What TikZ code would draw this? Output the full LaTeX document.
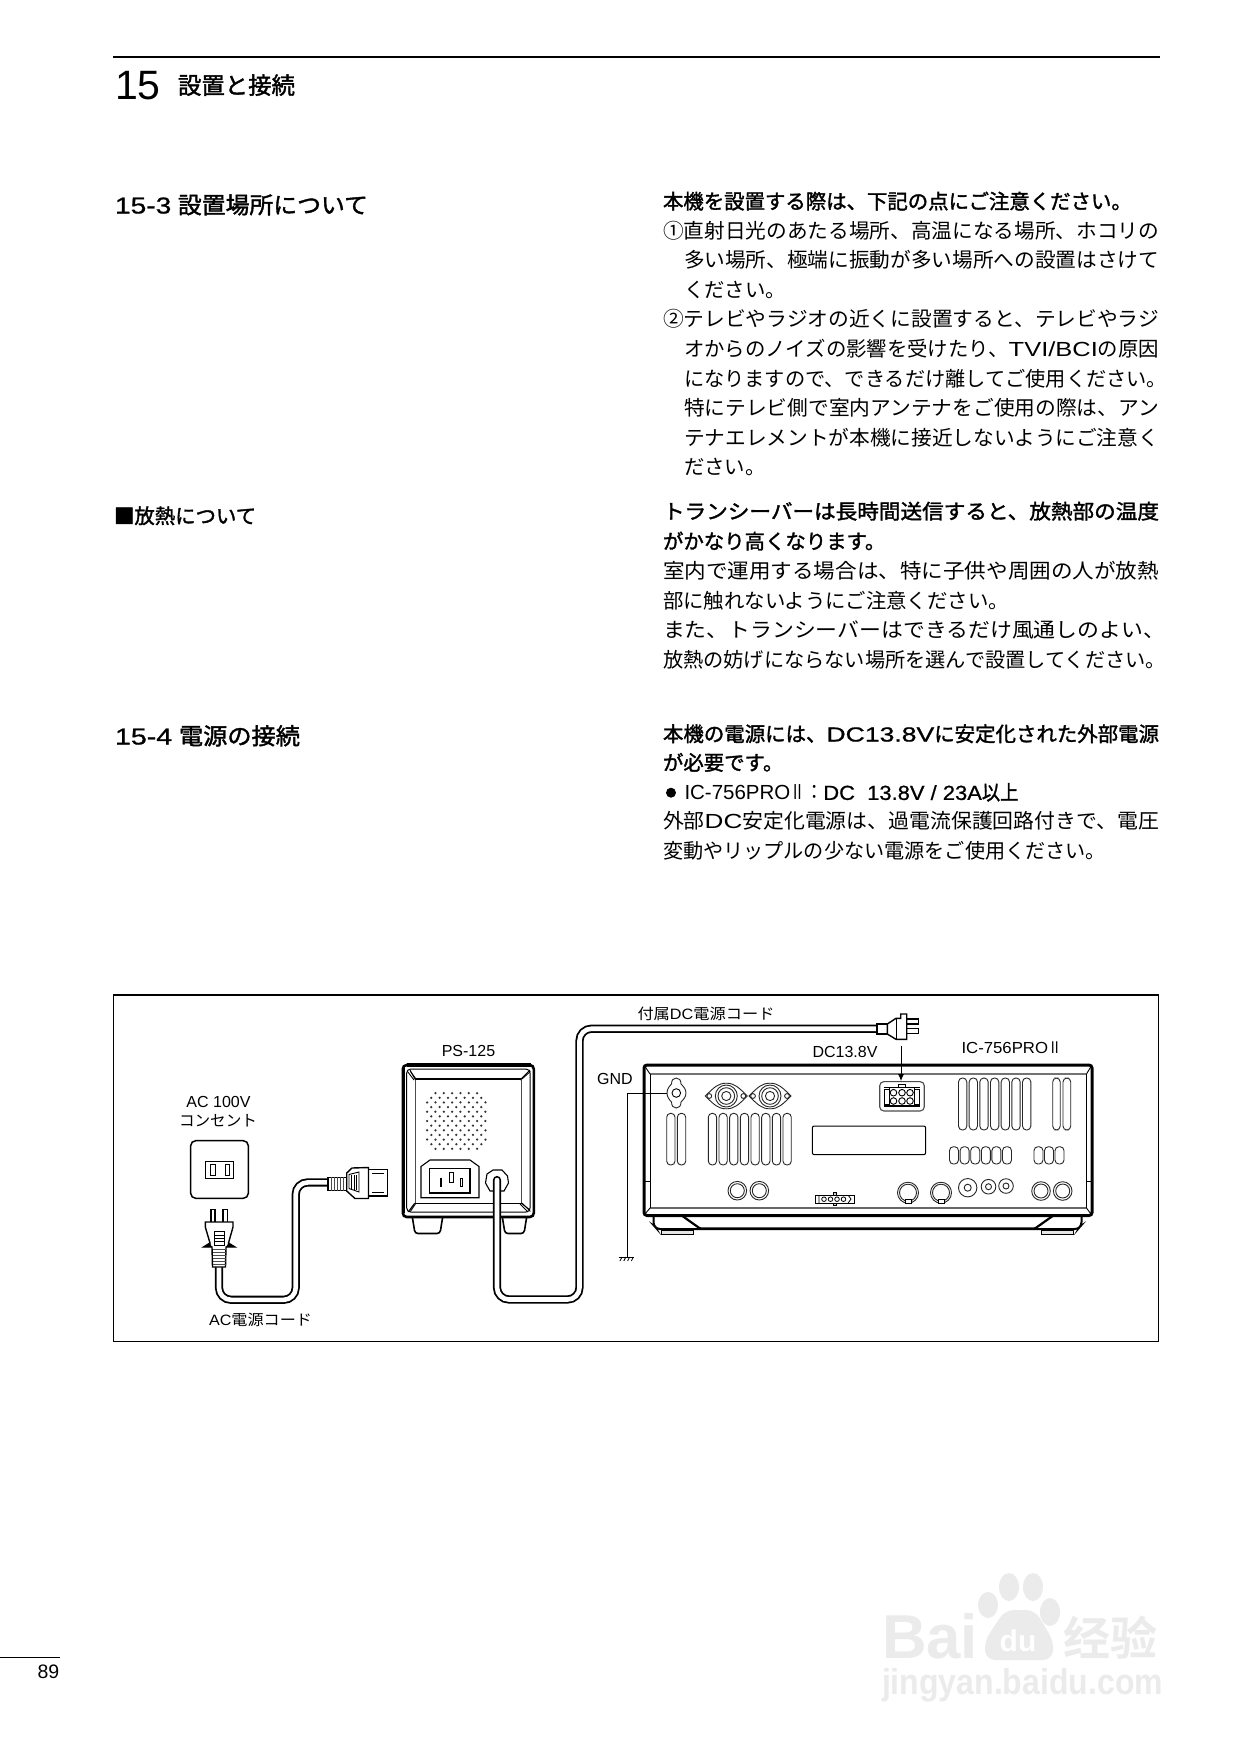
\documentclass[tikz,border=0pt]{standalone}
\usepackage{fontspec}
\usepackage{graphicx}
\setmainfont{Liberation Sans}[BoldFont=Liberation Sans,BoldFeatures={FakeBold=0.8}]
\newfontfamily\jp{Noto Sans CJK JP}[BoldFont=Noto Sans CJK JP,BoldFeatures={FakeBold=1.6}]
\newfontfamily\scfont{Noto Sans CJK SC Bold}
\newfontfamily\wmfont{Liberation Sans Bold}
\usetikzlibrary{arrows.meta}
\newcommand\fs{\fontsize{20.4}{24}\selectfont\jp}
\newcommand\lf{\rmfamily}
\newcommand\wide[2]{\scalebox{#1}[1]{#2}}
% fitted line: name,x,y(center),width,text
\newcommand\tfit[5]{\node[txt] (#1) at (#2,#3+7.2) {\resizebox{#4pt}{\height}{\fs #5}};}
\newcommand\tnat[4]{\node[txt] (#1) at (#2,#3+7.2) {\fs #4};}
\newcommand\slot[4]{\draw[thinl,rounded corners=3.9pt] (#1,#2) rectangle (#3,#4);}
\tikzset{
 txt/.style={anchor=base west,inner sep=0pt,outer sep=0pt},
 lab/.style={inner sep=0pt,outer sep=0pt,font=\fontsize{16}{18}\selectfont},
 thinl/.style={line width=0.9pt,draw=black!85},
 med/.style={line width=1.3pt},
 hvy/.style={line width=3pt},
 cord/.style={draw=black,line width=1.8pt,double=white,double distance=4.6pt},
 wm/.style={inner sep=0pt,outer sep=0pt,text=black!8},
}
\begin{document}
\begin{tikzpicture}[x=1pt,y=-1pt]
\useasboundingbox (0,0) rectangle (1240,1754);
\fill[white] (0,0) rectangle (1240,1754);
% page header
\draw[line width=2.4pt] (113,57) -- (1160,57);
\node[txt] (chap) at (115,99) {\fontsize{41}{44}\selectfont 15};
\node[txt] (chapt) at (178,94) {\fontsize{23.4}{26}\selectfont\jp\bfseries 設置と接続};
\node[txt] (s153) at (115,213.5) {\resizebox{253pt}{\height}{\fontsize{23}{26}\selectfont\bfseries \wide{1.18}{15-3} {\jp 設置場所について}}};
\node[txt] (sheat) at (114,523.5) {\fontsize{20.4}{24}\selectfont\jp\bfseries ■放熱について};
\node[txt] (s154) at (115,744.5) {\resizebox{185pt}{\height}{\fontsize{23}{26}\selectfont\bfseries \wide{1.18}{15-4} {\jp 電源の接続}}};
% body column
\tnat{a1}{663}{201.7}{\bfseries 本機を設置する際は、下記の点にご注意ください。}
\tfit{a2}{663}{231.2}{496}{①直射日光のあたる場所、高温になる場所、ホコリの}
\tfit{a3}{684}{260.5}{475}{多い場所、極端に振動が多い場所への設置はさけて}
\tnat{a4}{684}{290}{ください。}
\tfit{a5}{663}{319.5}{496}{②テレビやラジオの近くに設置すると、テレビやラジ}
\tfit{a6}{684}{349.5}{475}{オからのノイズの影響を受けたり、{\lf\wide{1.25}{TVI/BCI}}の原因}
\tfit{a7}{684}{379}{483}{になりますので、できるだけ離してご使用ください。}
\tfit{a8}{684}{408.5}{475}{特にテレビ側で室内アンテナをご使用の際は、アン}
\tfit{a9}{684}{438}{475}{テナエレメントが本機に接近しないようにご注意く}
\tnat{a10}{684}{467.5}{ださい。}
\tfit{b1}{663}{511.7}{496}{\bfseries トランシーバーは長時間送信すると、放熱部の温度}
\tnat{b2}{663}{541.7}{\bfseries がかなり高くなります。}
\tfit{b3}{663}{571.7}{496}{室内で運用する場合は、特に子供や周囲の人が放熱}
\tnat{b4}{663}{601}{部に触れないようにご注意ください。}
\tfit{b5}{663}{630.7}{502}{また、トランシーバーはできるだけ風通しのよい、}
\tfit{b6}{663}{660}{503}{放熱の妨げにならない場所を選んで設置してください。}
\tfit{c1}{663}{734.3}{496}{\bfseries 本機の電源には、{\lf\wide{1.3}{DC13.8V}}に安定化された外部電源}
\tnat{c2}{663}{763}{\bfseries が必要です。}
\node[circle,fill=black,inner sep=0pt,minimum size=10pt] (c3b) at (671,792.7) {};
\node[txt] (c3) at (684.5,799.9) {\resizebox{334pt}{\height}{\fs {\lf\wide{1.12}{IC-756PRO}}\wide{0.8}{Ⅱ}：{\lf\bfseries\wide{1.2}{DC\ \ 13.8V / 23A}}{\bfseries 以上}}};
\tfit{c4}{663}{821.7}{496}{外部{\lf\wide{1.25}{DC}}安定化電源は、過電流保護回路付きで、電圧}
\tfit{c5}{663}{851.7}{443}{変動やリップルの少ない電源をご使用ください。}
% figure frame
\draw[line width=1.2pt] (113.5,995) rectangle (1158.5,1341.5);
% labels
\node[lab] (lac) at (218.5,1102) {AC 100V};
\node[lab] (lcon) at (218,1121) {\fontsize{15.6}{18}\selectfont\jp コンセント};
\node[lab] (lps) at (468.5,1051) {PS-125};
\node[lab] (lcord) at (260.5,1320) {\resizebox{103pt}{\height}{\fontsize{15}{18}\selectfont AC{\jp 電源コード}}};
\node[lab] (lgnd) at (615,1079) {GND};
\node[lab] (ldcc) at (706,1014) {\resizebox{137pt}{\height}{\fontsize{15}{18}\selectfont\jp 付属{\rmfamily DC}電源コード}};
\node[lab] (ldc) at (845,1052) {DC13.8V};
\node[lab] (lic) at (1011.5,1048) {\resizebox{100pt}{\height}{\fontsize{16}{18}\selectfont IC-756PRO{\jp\wide{0.8}{Ⅱ}}}};
% outlet
\node[draw,line width=1.5pt,rounded corners=5pt,minimum width=57.6pt,minimum height=57.6pt,inner sep=0pt] (outlet) at (219.5,1169.5) {};
\node[draw,line width=1pt,minimum width=27.6pt,minimum height=17.3pt,inner sep=0pt] (socket) at (219.5,1169.7) {};
\draw[line width=1pt] (210.7,1164) rectangle (215,1175.3) (225,1164) rectangle (229.3,1175.3);
% PS-125
\foreach \fx/\fa/\fb in {0/412/443,1/502/527}{
 \draw[med,line width=1.6pt,fill=white,rounded corners=3pt] (\fa,1215) -- (\fa+3,1233.5) -- (\fb-3,1233.5) -- (\fb,1215);
}
\draw[line width=2.6pt,fill=white,rounded corners=4pt] (402.8,1065) rectangle (533.8,1217);
\draw[line width=3.6pt] (403.4,1213) -- (403.4,1068) (406.5,1065.2) -- (531,1065.2);
\draw[line width=1pt,rounded corners=4pt] (406.7,1069) rectangle (530,1212);
\draw[line width=1pt,black!70] (415,1079) -- (415,1203);
\draw[line width=1pt,black!70] (521,1079) -- (521,1203);
\draw[line width=1.3pt] (415,1079) -- (521,1079);
\draw[line width=1pt] (415,1203) -- (521,1203);
\foreach \px/\py/\ox/\oy in {415/1079/408/1071,521/1079/528/1071,415/1203/408/1211,521/1203/528/1211}{
 \draw[line width=0.9pt] (\px,\py) -- (\ox+2,\oy-1) (\px-1,\py+1) -- (\ox,\oy+1);
 \draw[line width=0.9pt] (\px+1,\py) -- (\ox+2.4,\oy+0.4);
}
% speaker dots
\foreach \i in {-6,...,6}{\foreach \j in {-4,...,4}{
 \pgfmathsetmacro\dx{(\j+(mod(abs(\i),2)==0?0.5:0))*8.33}
 \pgfmathsetmacro\dy{\i*4.64}
 \pgfmathtruncatemacro\ok{(abs(\dx)<=30 && abs(\dx)+abs(\dy)<=49.5)?1:0}
 \ifnum\ok=1 \fill[black!80] (456.3+\dx,1121+\dy) circle[radius=1.25]; \fi
}}
% IEC inlet
\draw[line width=1.1pt] (421,1166.5) -- (430,1160) -- (470,1160) -- (479,1166.5) -- (479,1197.7) -- (421,1197.7) -- cycle;
\draw[line width=1.6pt] (429.3,1168.3) rectangle (470,1192.7);
\draw[line width=1pt] (440,1178) rectangle (441.8,1186.5) (449.7,1172.5) rectangle (453.2,1182) (460.2,1178) rectangle (462.2,1186.5);
% grommet
\draw[line width=1.1pt,fill=white] (507.5,1176) -- (508.5,1183) -- (504,1191) -- (490,1191) -- (485.5,1183) -- (487,1174) -- (493,1170) -- (502,1170) -- cycle;
% radio
\draw[line width=2pt,fill=white,rounded corners=3pt] (653.5,1213) -- (653.5,1225) -- (657,1229) -- (1078,1229) -- (1081.5,1225) -- (1081.5,1213);
\draw[hvy,fill=white,rounded corners=3pt] (644,1065) rectangle (1092,1215.5);
\draw[line width=2pt,black!55] (650,1074) -- (1086,1074);
\draw[line width=1.5pt,black!60] (650,1208) -- (1086,1208);
\draw[line width=0.9pt] (650,1074) -- (650,1208) (1086.5,1074) -- (1086.5,1208);
\draw[line width=0.9pt] (645,1066.5) -- (650,1074) (1091,1066.5) -- (1086.5,1074) (645,1214) -- (650,1208) (1091,1214) -- (1086.5,1208);
\draw[line width=0.9pt] (645,1181.7) -- (650,1181.7) (1087,1181.7) -- (1091,1181.7);
% base
\draw[line width=2.2pt,rounded corners=1pt] (681,1215) -- (700,1228.5) -- (1035,1228.5) -- (1054,1215);
\draw[line width=1.5pt,fill=black!10] (661.7,1230) rectangle (693.3,1234.5) (1041.7,1230) rectangle (1073.3,1234.5);
% GND stud
\draw[thinl,fill=white] (671.5,1084) .. controls (671.5,1080) and (673.5,1078) .. (676.3,1078) .. controls (679,1078) and (681,1080) .. (681,1084) .. controls (683,1086) and (686,1089) .. (686,1093) .. controls (686,1097) and (683,1100) .. (681,1102) .. controls (681,1106) and (679,1108) .. (676.3,1108) .. controls (673.5,1108) and (671.5,1106) .. (671.5,1102) .. controls (669.5,1100) and (667,1097) .. (667,1093) .. controls (667,1089) and (669.5,1086) .. (671.5,1084) -- cycle;
\node[draw,line width=0.9pt,circle,inner sep=0pt,minimum size=8.6pt] (stud) at (676.3,1093) {};
\coordinate (gndtee) at (627,1093);
\coordinate (gnd) at (627,1257);
\draw[line width=1pt] (667,1093) -- (gndtee) -- (gnd);
\draw[line width=1pt] (618.5,1257) -- (634,1257);
\foreach \k in {0,1,2,3}{\draw[line width=0.8pt] (620+\k*3.8,1261) -- (622+\k*3.8,1257);}
% antenna connectors
\foreach \cx in {726.3,770}{
 \draw[thinl,fill=white] (\cx-21,1096) .. controls (\cx-12,1087) and (\cx-8,1083.2) .. (\cx,1083.2) .. controls (\cx+8,1083.2) and (\cx+12,1087) .. (\cx+21,1096) .. controls (\cx+12,1105) and (\cx+8,1108.8) .. (\cx,1108.8) .. controls (\cx-8,1108.8) and (\cx-12,1105) .. (\cx-21,1096) -- cycle;
 \draw[thinl] (\cx,1096) circle[radius=11] (\cx,1096) circle[radius=8.3] (\cx,1096) circle[radius=4.6];
 \draw[thinl] (\cx-17,1096) circle[radius=2.4] (\cx+17,1096) circle[radius=2.4];
}
% vents
\slot{666.7}{1113.3}{675}{1165}
\slot{677.3}{1113.3}{685.7}{1165}
\foreach \k in {0,...,7}{\slot{708.3+\k*10.67}{1113.3}{716.6+\k*10.67}{1165}}
\foreach \k in {0,...,6}{\slot{958.5+\k*10.67}{1078}{966.8+\k*10.67}{1130}}
\slot{1052.7}{1078}{1060.2}{1130}
\slot{1063}{1078}{1070.7}{1130}
\foreach \k in {0,...,5}{\slot{949.5+\k*10.6}{1146.7}{958.5+\k*10.6}{1164}}
\foreach \k in {0,1,2}{\slot{1034+\k*10.5}{1146.7}{1043+\k*10.5}{1164}}
% label plate
\draw[line width=1pt,rounded corners=2pt] (812.3,1126) rectangle (925.7,1154.7);
% DC socket
\node[draw=black!70,line width=1.1pt,rounded corners=4pt,minimum width=44.5pt,minimum height=29.3pt,inner sep=0pt] (dcsock) at (902,1096.3) {};
\draw[line width=1.3pt] (884,1087.3) -- (919.5,1087.3) (884,1106) -- (919.5,1106);
\draw[line width=1pt] (889.3,1087.3) -- (889.3,1106) (914.3,1087.3) -- (914.3,1106) (884,1089.5) rectangle (889.3,1104) (914.3,1089.5) rectangle (919.5,1104);
\foreach \k in {893.5,902,910}{\draw[line width=0.9pt] (\k,1092.7) circle[radius=3.3] (\k,1101) circle[radius=3.3];}
\draw[fill=white,line width=0.8pt] (898.5,1084.5) rectangle (905,1087.3);
% rear sockets
\foreach \cx/\cy/\ra/\rb in {737.3/1190.7/9.3/7,759.3/1190.7/9.3/7,1041/1191/9.3/7,1062.7/1191/9.3/7,967.7/1187.7/9.2/3.5,988.5/1186.7/7.3/3,1006/1186/7.3/3}{
 \draw[thinl] (\cx,\cy) circle[radius=\ra] (\cx,\cy) circle[radius=\rb];
}
\foreach \cx in {908,941}{
 \draw[thinl] (\cx,1192.7) circle[radius=10.5] (\cx,1192.7) circle[radius=8.5];
 \draw[line width=0.8pt,fill=white] (\cx-3,1199) rectangle (\cx+3,1203);
}
\draw[line width=1pt] (815.7,1195) rectangle (854.3,1203.3);
\draw[line width=0.8pt] (819,1195) -- (819,1203.3) (848,1195) -- (851,1199) -- (848,1203.3);
\draw[line width=0.8pt,fill=black!20] (833,1192.7) rectangle (836.5,1195) (833,1203.3) rectangle (836.5,1205.6);
\foreach \k in {824,830.5,837,843.5}{\draw[line width=0.8pt] (\k,1199.2) circle[radius=2.3];}
% cords
\coordinate (acout) at (219,1266);
\coordinate (acb1) at (219,1299.8);
\coordinate (acb2) at (295.7,1299.8);
\coordinate (acb3) at (295.7,1182.4);
\coordinate (iecend) at (329,1182.4);
\draw[cord,rounded corners=12pt] (acout) -- (acb1) -- (acb2) -- (acb3) -- (iecend);
\coordinate (psout) at (497,1180);
\coordinate (dc1) at (497,1299.5);
\coordinate (dc2) at (579.5,1299.5);
\coordinate (dc3) at (579.5,1028.7);
\coordinate (dcend) at (878,1028.7);
\draw[cord,rounded corners=12pt,line cap=round] (psout) -- (dc1) -- (dc2) -- (dc3) -- (dcend);
% AC wall plug
\draw[line width=1.6pt,fill=white] (210.7,1222) -- (210.7,1209.3) -- (215,1209.3) -- (215,1222) (222.7,1222) -- (222.7,1209.3) -- (227.3,1209.3) -- (227.3,1222);
\draw[line width=1.4pt,fill=white] (205.3,1222) -- (233,1222) -- (233,1227) -- (228.5,1243) -- (235,1247) -- (226,1247) -- (225.5,1267) -- (212.5,1267) -- (212,1247) -- (203.5,1247) -- (210,1243) -- (205.3,1227) -- cycle;
\fill (203.5,1247) -- (210,1243) -- (212,1247) -- cycle (235,1247) -- (228.5,1243) -- (226,1247) -- cycle;
\draw[line width=0.9pt] (214.3,1231.7) rectangle (224.3,1245);
\foreach \k in {1235,1238.2,1241.4}{\draw[line width=0.8pt] (214.3,\k) -- (224.3,\k);}
\foreach \k in {1249.5,1252.5,1255.5,1258.5,1261.5,1264.5}{\draw[line width=1pt,black!70] (212.5,\k) -- (225.5,\k);}
% IEC plug
\draw[line width=1.2pt,fill=white] (328,1177.4) rectangle (346.7,1190.6);
\foreach \k in {331,334,337,340,343}{\draw[line width=1pt,black!70] (\k,1177.4) -- (\k,1190.6);}
\draw[line width=1.4pt,fill=white] (346.7,1173) -- (352,1168) -- (368.5,1167.5) -- (368.5,1198.5) -- (355,1198.5) -- (346.7,1191) -- cycle;
\draw[line width=0.9pt] (349,1174.5) -- (359,1172) -- (359,1192) -- (349,1188.5) -- cycle;
\foreach \k in {351.5,354,356.5}{\draw[line width=0.8pt] (\k,1175) -- (\k,1190);}
\draw[line width=1.5pt] (368.5,1169.3) -- (387.7,1169.3) -- (387.7,1196) -- (368.5,1196);
\draw[line width=0.9pt] (372,1173.5) -- (384,1173.5) (372,1192) -- (384,1192);
% DC plug
\draw[line width=1.4pt,fill=white] (906.7,1019) -- (918.3,1019) -- (918.3,1024) -- (906.7,1024) (906.7,1028.3) -- (918.3,1028.3) -- (918.3,1033.3) -- (906.7,1033.3);
\draw[line width=1.4pt,fill=white] (877,1024) rectangle (887.3,1034);
\draw[line width=1.4pt,fill=white] (887.3,1024) -- (896,1018.3) -- (900.7,1018.3) -- (900.7,1014) -- (906.7,1014) -- (906.7,1039.3) -- (896,1039.3) -- (887.3,1034) -- cycle;
\draw[line width=1pt] (896,1018.3) -- (896,1039.3);
\coordinate (dcarrow) at (901,1046);
\draw[line width=1pt,-{Latex[length=7pt,width=6pt]}] (dcarrow) -- (dcsock.north -| dcarrow);
% page number
\draw[line width=1pt] (0,1657) -- (60,1657);
\node[txt] (pg) at (37.5,1678) {\fontsize{19.5}{22}\selectfont 89};
% watermark
\node[wm,anchor=base west] (wba) at (882,1658) {\resizebox{96pt}{\height}{\fontsize{62}{64}\selectfont\wmfont Bai}};
\foreach \ex/\ey/\ea/\eb in {988/1605/10/13,1009/1587/10/14,1033/1587/10/14,1050/1612/10/14}{
 \fill[black!8] (\ex,\ey) ellipse[x radius=\ea,y radius=\eb];
}
\fill[black!8,rounded corners=9pt] (986,1660) -- (984,1642) -- (1005,1610) -- (1035,1610) -- (1054,1642) -- (1052,1660) -- cycle;
\node[wm,text=white,anchor=base] (wdu) at (1018,1651) {\fontsize{30}{32}\selectfont\wmfont du};
\node[wm,anchor=base west] (wjy) at (1063,1655) {\resizebox{94pt}{\height}{\fontsize{46}{48}\selectfont\scfont 经验}};
\node[wm,anchor=base west] (wurl) at (882,1694) {\resizebox{281pt}{\height}{\fontsize{36}{38}\selectfont\wmfont jingyan.baidu.com}};
\end{tikzpicture}
\end{document}
